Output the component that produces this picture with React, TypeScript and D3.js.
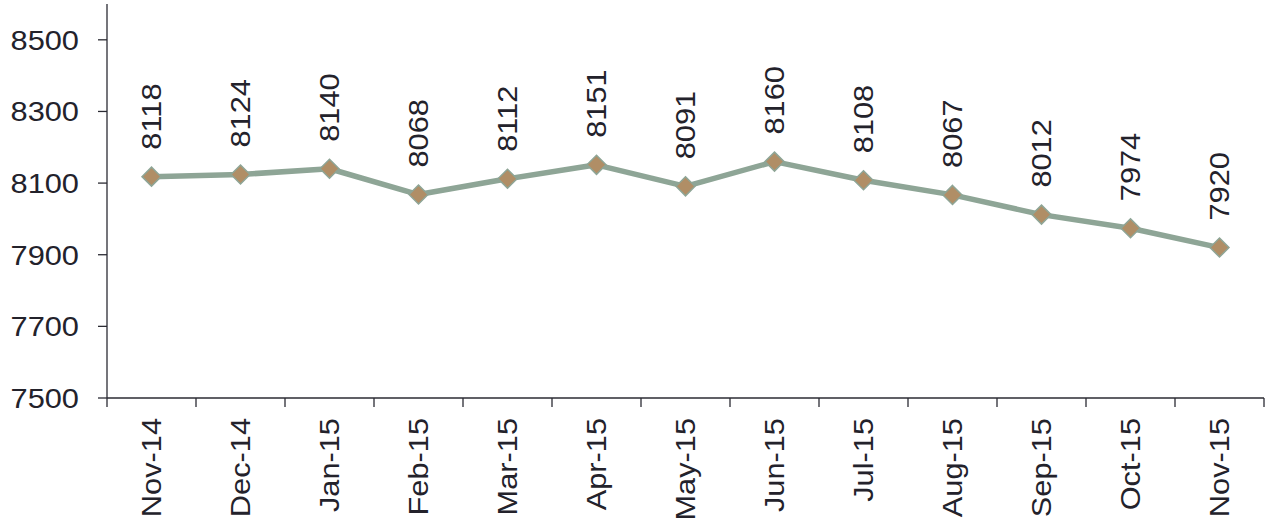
import React from "react";
import * as d3 from "d3";

const categories = ["Nov-14","Dec-14","Jan-15","Feb-15","Mar-15","Apr-15","May-15","Jun-15","Jul-15","Aug-15","Sep-15","Oct-15","Nov-15"];
const values = [8118, 8124, 8140, 8068, 8112, 8151, 8091, 8160, 8108, 8067, 8012, 7974, 7920];
const yTicks = [7500, 7700, 7900, 8100, 8300, 8500];

export default function App() {
  const W = 1273, H = 524;
  const left = 107, right = 1264, top = 4, bottom = 398;
  const x = d3.scaleBand<string>().domain(categories).range([left, right]);
  const y = d3.scaleLinear().domain([7500, 8600]).range([bottom, top]);
  const line = d3.line<number>().x((_, i) => x(categories[i])! + x.bandwidth() / 2).y(d => y(d));
  const font = "Liberation Sans, Arial, sans-serif";
  const txt = "#23222b";
  const axis = "#2b2b33";
  const sx = 1.08;
  return (
    <svg width={W} height={H} style={{ position: "absolute", left: 0, top: 0 }}>
      <rect width={W} height={H} fill="#fff" />
      <line x1={left} x2={left} y1={top} y2={bottom} stroke={axis} strokeWidth={1.3} />
      <line x1={left} x2={right} y1={bottom} y2={bottom} stroke={axis} strokeWidth={1.3} />
      {yTicks.map(t => (
        <g key={t}>
          <line x1={left - 9} x2={left} y1={y(t)} y2={y(t)} stroke={axis} strokeWidth={1.3} />
          <text transform={`translate(79,${y(t)}) scale(${sx},1)`} dy="0.35em" textAnchor="end" fontFamily={font} fontSize={28.5} fill={txt}>{t}</text>
        </g>
      ))}
      {categories.map((c, i) => (
        <line key={"t" + c} x1={x(c)!} x2={x(c)!} y1={bottom} y2={bottom + 9} stroke={axis} strokeWidth={1.3} />
      ))}
      <line x1={right} x2={right} y1={bottom} y2={bottom + 9} stroke={axis} strokeWidth={1.3} />
      {categories.map(c => {
        const cx = x(c)! + x.bandwidth() / 2;
        return (
          <text key={"l" + c} transform={`translate(${cx},${418}) rotate(-90) scale(${sx},1)`} dy="0.35em" textAnchor="end" fontFamily={font} fontSize={28.5} fill={txt}>{c}</text>
        );
      })}
      <path d={line(values)!} fill="none" stroke="#8ea596" strokeWidth={5.5} strokeLinejoin="round" />
      {values.map((v, i) => {
        const cx = x(categories[i])! + x.bandwidth() / 2;
        const cy = y(v);
        const r = 9.5;
        return (
          <g key={"p" + i}>
            <path d={`M${cx},${cy - r}L${cx + r},${cy}L${cx},${cy + r}L${cx - r},${cy}Z`} fill="#b08e66" stroke="#8ea596" strokeWidth={1.5} />
            <text transform={`translate(${cx},${cy - 27}) rotate(-90) scale(${sx},1)`} dy="0.35em" textAnchor="start" fontFamily={font} fontSize={28.5} fill={txt}>{v}</text>
          </g>
        );
      })}
    </svg>
  );
}
